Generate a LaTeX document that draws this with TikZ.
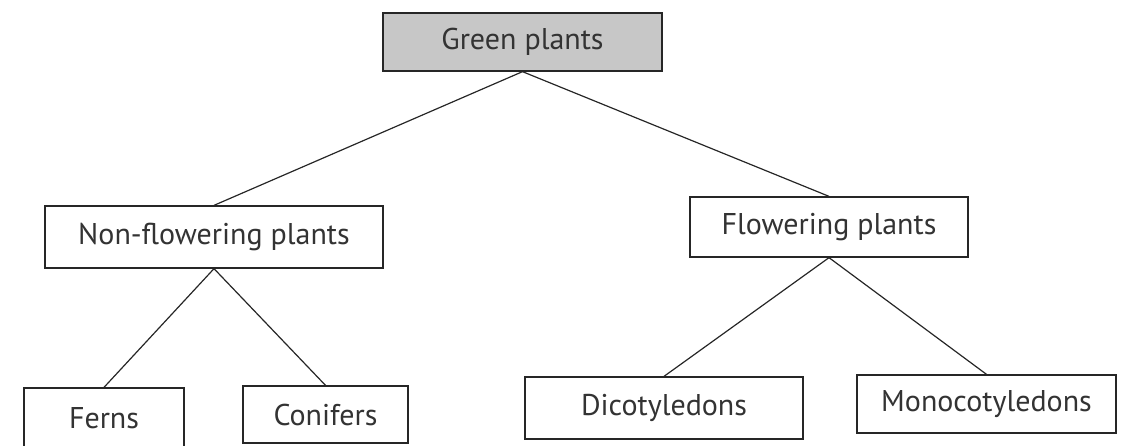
\documentclass[tikz,border=0pt]{standalone}
\usepackage{fontspec}
\setmainfont{PT Sans}

\begin{document}
\begin{tikzpicture}[x=1pt, y=-1pt,
  box/.style={rectangle, draw=black!85, line width=1.3pt, fill=white, text=black!80, font=\fontsize{30}{34}\selectfont, inner sep=0pt},
  topbox/.style={box, fill=black!22},
  branch/.style={line width=1.2pt, draw=black!85}
]
\useasboundingbox (0,0) rectangle (1148,445);

\node (green) [topbox, minimum width=279pt, minimum height=58pt] at (522.5,42) {Green plants};
\node (nonflow) [box, minimum width=338pt, minimum height=62pt] at (214,237) {Non-flowering plants};
\node (flow) [box, minimum width=278pt, minimum height=60pt] at (829,227) {Flowering plants};
\node (ferns) [box, minimum width=160pt, minimum height=60pt] at (104,418) {Ferns};
\node (conifers) [box, minimum width=165pt, minimum height=57pt] at (325.5,414.5) {Conifers};
\node (dicot) [box, minimum width=278pt, minimum height=62pt] at (664,408) {Dicotyledons};
\node (monocot) [box, minimum width=259pt, minimum height=58pt] at (986.5,404) {Monocotyledons};

\draw [branch] (green.south) -- (nonflow.north);
\draw [branch] (green.south) -- (flow.north);
\draw [branch] (nonflow.south) -- (ferns.north);
\draw [branch] (nonflow.south) -- (conifers.north);
\draw [branch] (flow.south) -- (dicot.north);
\draw [branch] (flow.south) -- (monocot.north);

\end{tikzpicture}
\end{document}
